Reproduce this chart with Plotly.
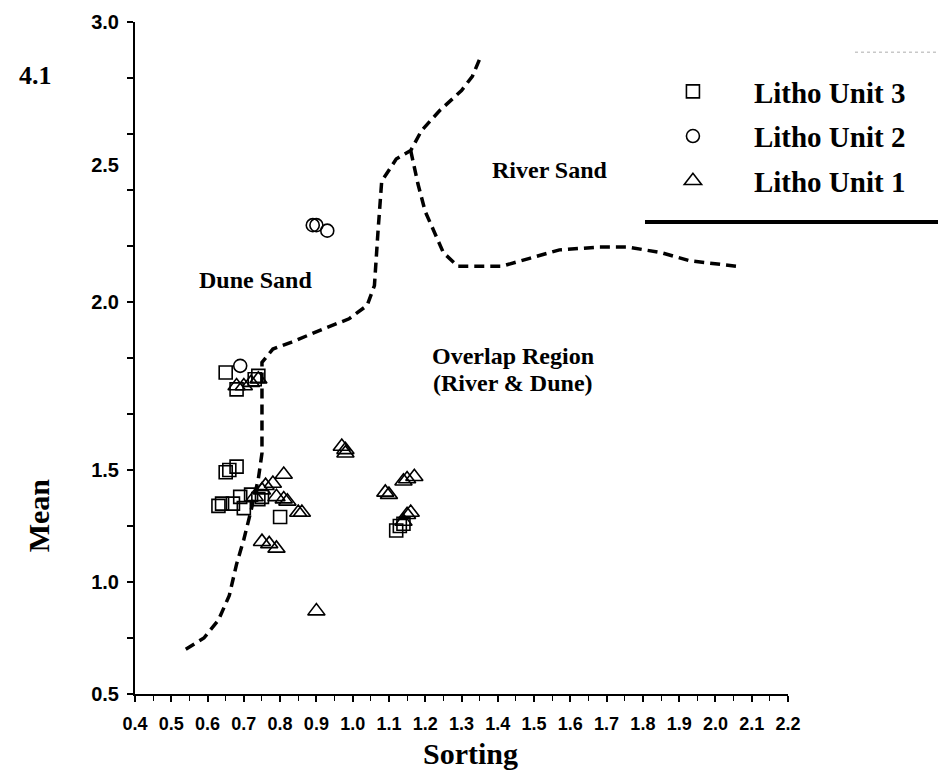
import numpy as np
import plotly.graph_objects as go

# ---- grain-size statistics (Folk & Ward): Sorting vs Mean ----
unit3_sorting = [0.65, 0.68, 0.74, 0.73, 0.65, 0.66, 0.68, 0.63, 0.64, 0.67,
                 0.70, 0.69, 0.72, 0.74, 0.80, 0.75, 1.12, 1.13, 1.14]
unit3_mean = [1.79, 1.74, 1.78, 1.77, 1.49, 1.50, 1.51, 1.34, 1.35, 1.35,
              1.33, 1.38, 1.39, 1.37, 1.29, 1.38, 1.23, 1.25, 1.26]

unit2_sorting = [0.69, 0.89, 0.90, 0.93]
unit2_mean = [1.81, 2.28, 2.28, 2.26]

unit1_sorting = [0.68, 0.70, 0.72, 0.74, 0.81, 0.78, 0.75, 0.76, 0.81, 0.82,
                 0.79, 0.85, 0.86, 0.73, 0.75, 0.77, 0.79, 0.97, 0.98, 0.98,
                 1.09, 1.10, 1.14, 1.15, 1.17, 1.14, 1.15, 1.16, 0.90]
unit1_mean = [1.75, 1.75, 1.76, 1.77, 1.48, 1.44, 1.41, 1.43, 1.37, 1.36,
              1.38, 1.31, 1.31, 1.38, 1.18, 1.17, 1.15, 1.57, 1.56, 1.55,
              1.40, 1.39, 1.45, 1.46, 1.47, 1.27, 1.30, 1.31, 0.87]

# field boundaries
dune_boundary_sorting = [0.54, 0.59, 0.63, 0.66, 0.68, 0.70, 0.72, 0.74, 0.75, 0.75,
                         0.75, 0.78, 0.83, 0.92, 0.99, 1.04, 1.06, 1.07, 1.08, 1.12,
                         1.16, 1.19, 1.24, 1.30, 1.33, 1.35]
dune_boundary_mean = [0.70, 0.75, 0.83, 0.94, 1.08, 1.19, 1.32, 1.46, 1.55, 1.77,
                      1.82, 1.86, 1.88, 1.92, 1.95, 1.99, 2.06, 2.26, 2.44, 2.52,
                      2.55, 2.62, 2.69, 2.76, 2.81, 2.87]

river_boundary_sorting = [1.16, 1.18, 1.20, 1.23, 1.25, 1.29, 1.41, 1.49, 1.57, 1.68,
                          1.76, 1.85, 1.93, 2.06]
river_boundary_mean = [2.55, 2.43, 2.33, 2.24, 2.18, 2.13, 2.13, 2.16, 2.19, 2.20,
                       2.20, 2.18, 2.15, 2.13]

# axis labels
mean_tick_labels = [0.5, 1.0, 1.5, 2.0, 2.5, 3.0]

# The Mean axis has uneven spacing between its labelled values; values are
# placed by interpolating between the labelled tick slots (12 tick intervals).
MEAN_TICK_SLOTS = [0, 2, 4, 7, 9.45, 12]


def mean_axis(values):
    return np.interp(values, mean_tick_labels, MEAN_TICK_SLOTS)


SERIF = "Liberation Serif, Times New Roman, serif"
SANS = "Liberation Sans, Arial, sans-serif"
NARROW = "Liberation Sans Narrow, Arial Narrow, Liberation Sans, sans-serif"

fig = go.Figure()

boundary_line = dict(color="black", width=3.5, dash="10px,6px")
fig.add_trace(go.Scatter(x=dune_boundary_sorting, y=mean_axis(dune_boundary_mean),
                         mode="lines", line=boundary_line, showlegend=False,
                         hoverinfo="skip"))
fig.add_trace(go.Scatter(x=river_boundary_sorting, y=mean_axis(river_boundary_mean),
                         mode="lines", line=boundary_line, showlegend=False,
                         hoverinfo="skip"))

units = [
    ("Litho Unit 3", unit3_sorting, unit3_mean, "square-open", 13),
    ("Litho Unit 2", unit2_sorting, unit2_mean, "circle-open", 13),
    ("Litho Unit 1", unit1_sorting, unit1_mean, "triangle-up-open", 15),
]
for name, xs, ys, sym, size in units:
    fig.add_trace(go.Scatter(
        x=xs, y=mean_axis(ys), mode="markers", name=name, legendgroup=name,
        customdata=ys, hovertemplate="Sorting %{x}<br>Mean %{customdata}<extra></extra>",
        marker=dict(symbol=sym, size=size, color="black", line=dict(width=1.6, color="black")),
    ))

# region labels
regions = [
    ("River Sand", 1.544, 2.48),
    ("Dune Sand", 0.731, 2.08),
    ("Overlap Region", 1.442, 1.84),
    ("(River & Dune)", 1.442, 1.76),
]
for text, sx, my in regions:
    fig.add_annotation(x=sx, y=float(mean_axis(my)), text=text, showarrow=False,
                       font=dict(family=SERIF, size=24, color="black", weight="bold"),
                       xanchor="center", yanchor="middle")

# axis titles and panel number
fig.add_annotation(xref="paper", yref="paper", x=0.5145, y=-0.089, text="Sorting",
                   showarrow=False, xanchor="center", yanchor="middle",
                   font=dict(family=SERIF, size=30, color="black", weight="bold"))
fig.add_annotation(xref="paper", yref="paper", x=-0.1485, y=0.266, text="Mean",
                   textangle=-90, showarrow=False, xanchor="center", yanchor="middle",
                   font=dict(family=SERIF, size=30, color="black", weight="bold"))
fig.add_annotation(xref="paper", yref="paper", x=-0.153, y=0.921, text="4.1",
                   showarrow=False, xanchor="center", yanchor="middle",
                   font=dict(family=SERIF, size=26, color="black", weight="bold"))

# legend frame lines
fig.add_shape(type="line", xref="paper", yref="paper", x0=0.781, x1=1.23,
              y0=0.7024, y1=0.7024, line=dict(color="black", width=4))
fig.add_shape(type="line", xref="paper", yref="paper", x0=1.1026, x1=1.23,
              y0=0.955, y1=0.955, line=dict(color="#c8c8c8", width=1.5, dash="dot"))

fig.update_layout(
    width=938, height=770,
    margin=dict(l=135, r=150, t=22, b=76),
    paper_bgcolor="white", plot_bgcolor="white",
    showlegend=True,
    legend=dict(x=0.761, y=0.9345, xanchor="left", yanchor="top",
                font=dict(family=SERIF, size=29, color="black", weight="bold"),
                itemwidth=112, tracegroupgap=4, traceorder="grouped",
                bgcolor="rgba(0,0,0,0)"),
    xaxis=dict(range=[0.4, 2.2], showline=True, linecolor="black", linewidth=2,
               showgrid=False, zeroline=False, tick0=0.4, dtick=0.1,
               tickformat=".1f", ticks="outside", ticklen=6, tickwidth=1.5,
               tickcolor="black", ticklabelstandoff=6,
               tickfont=dict(family=NARROW, size=18, color="black", weight="bold"),
               minor=dict(tick0=0.4, dtick=0.05, ticks="outside", ticklen=5,
                          tickwidth=1.2, tickcolor="black")),
    yaxis=dict(range=[0, 12], showline=True, linecolor="black", linewidth=2,
               showgrid=False, zeroline=False, tickmode="array",
               tickvals=list(mean_axis(mean_tick_labels)),
               ticktext=[f"{v:.1f}" for v in mean_tick_labels],
               ticks="", ticklabelstandoff=10,
               tickfont=dict(family=SANS, size=20, color="black", weight="bold"),
               minor=dict(tickmode="linear", tick0=0, dtick=1, ticks="outside",
                          ticklen=6, tickwidth=1.5, tickcolor="black")),
)

fig.write_html("out.html")
